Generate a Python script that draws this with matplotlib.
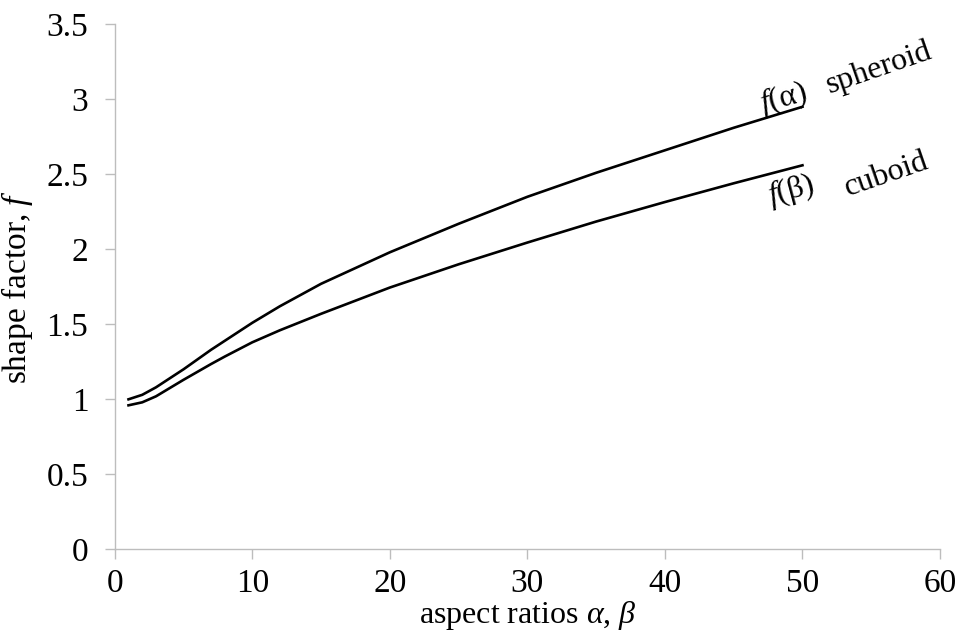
import matplotlib
matplotlib.use("Agg")
import matplotlib.pyplot as plt

alpha = [1, 2, 3, 4, 5, 7, 8, 10, 12, 15, 20, 25, 30, 35, 40, 45, 50]
spheroid = [1.00, 1.03, 1.08, 1.14, 1.20, 1.33, 1.39, 1.51, 1.62, 1.77, 1.98, 2.17, 2.35, 2.51, 2.66, 2.81, 2.95]
cuboid = [0.96, 0.98, 1.02, 1.075, 1.13, 1.235, 1.285, 1.38, 1.46, 1.57, 1.745, 1.90, 2.045, 2.185, 2.315, 2.44, 2.56]
xticks = [0, 10, 20, 30, 40, 50, 60]
yticks = [0, 0.5, 1, 1.5, 2, 2.5, 3, 3.5]
yticklabels = ["0", "0.5", "1", "1.5", "2", "2.5", "3", "3.5"]

plt.rcParams['font.family'] = ['Liberation Serif', 'DejaVu Serif']
plt.rcParams['mathtext.fontset'] = 'custom'
plt.rcParams['mathtext.it'] = 'Liberation Serif:italic'
plt.rcParams['mathtext.rm'] = 'Liberation Serif'

fig = plt.figure(figsize=(9.65, 6.44), dpi=100)
ax = fig.add_axes([0.1189, 0.147, 0.8552, 0.8153])
ax.plot(alpha, spheroid, color='black', lw=1.9, solid_joinstyle='round')
ax.plot(alpha, cuboid, color='black', lw=1.9, solid_joinstyle='round')
ax.set_xlim(0, 60)
ax.set_ylim(0, 3.5)
ax.set_xticks(xticks)
ax.set_yticks(yticks)
ax.set_yticklabels(yticklabels)
for s in ['top', 'right']:
    ax.spines[s].set_visible(False)
for s in ['left', 'bottom']:
    ax.spines[s].set_color('#bdbdbd')
    ax.spines[s].set_linewidth(1.0)
ax.tick_params(axis='both', direction='out', length=7, color='#bdbdbd', labelsize=24, width=1.0)
ax.tick_params(axis='x', pad=7)
ax.tick_params(axis='y', pad=12)
ax.set_xlabel(r'aspect ratios $\alpha$, $\beta$', fontsize=23, labelpad=0)
ax.set_ylabel(r'shape factor, $f$', fontsize=24, labelpad=8)

ax.text(48.6, 3.005, r'$f$(α)', fontsize=23, rotation=15, ha='center', va='center', rotation_mode='anchor')
ax.text(55.6, 3.206, 'spheroid', fontsize=23, rotation=19, ha='center', va='center', rotation_mode='anchor')
ax.text(49.2, 2.39, r'$f$(β)', fontsize=23, rotation=15, ha='center', va='center', rotation_mode='anchor')
ax.text(56.1, 2.50, 'cuboid', fontsize=23, rotation=19, ha='center', va='center', rotation_mode='anchor')

fig.savefig('out.png', dpi=100)
